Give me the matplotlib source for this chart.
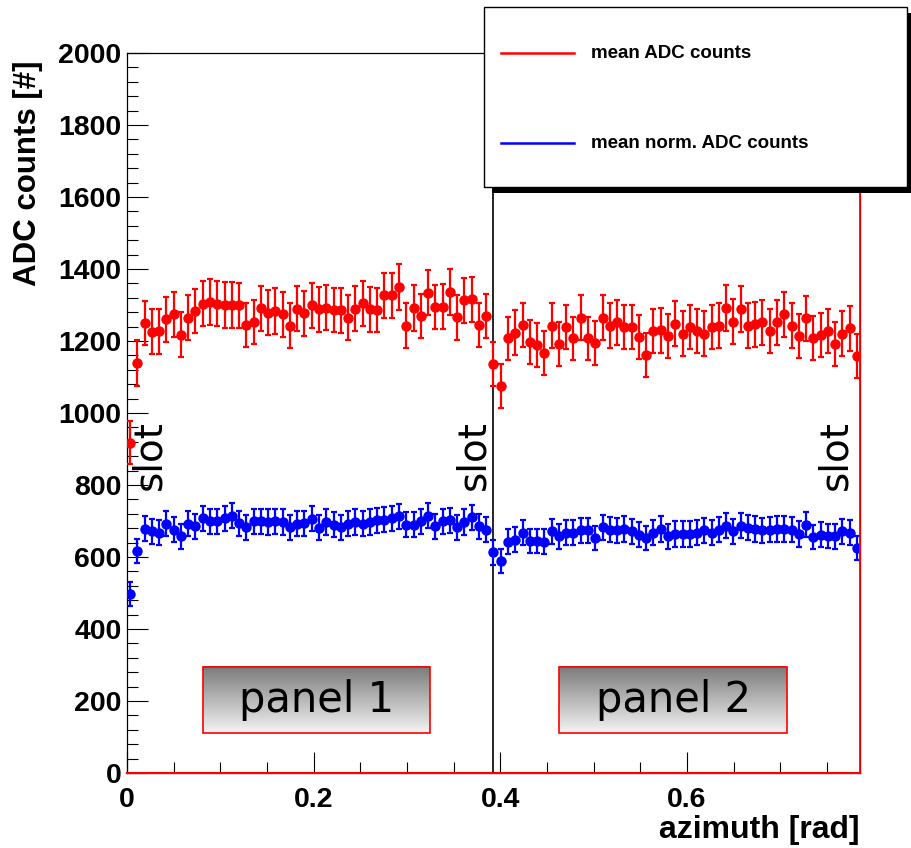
import numpy as np
import matplotlib
matplotlib.use("Agg")
import matplotlib.pyplot as plt
from matplotlib.patches import Rectangle
from matplotlib.lines import Line2D
from matplotlib.colors import LinearSegmentedColormap

# ---------------- data ----------------
azimuth_start = 0.0032
azimuth_stop = np.pi / 4 - 0.0032
n_points = 101
panel_boundary = np.pi / 8

mean_adc = [917, 1138, 1249, 1226, 1227, 1260, 1274, 1218, 1265, 1283,
            1304, 1309, 1304, 1300, 1300, 1299, 1244, 1253, 1291, 1279,
            1283, 1274, 1243, 1290, 1277, 1299, 1288, 1293, 1286, 1285,
            1265, 1290, 1305, 1288, 1286, 1327, 1327, 1351, 1243, 1292,
            1269, 1334, 1294, 1295, 1336, 1266, 1313, 1316, 1244, 1269,
            1137, 1075, 1207, 1223, 1244, 1198, 1189, 1167, 1243, 1192,
            1239, 1207, 1265, 1207, 1195, 1265, 1243, 1252, 1239, 1239,
            1211, 1161, 1228, 1230, 1214, 1248, 1220, 1239, 1228, 1220,
            1239, 1243, 1291, 1254, 1290, 1243, 1246, 1252, 1228, 1252,
            1274, 1243, 1214, 1263, 1209, 1216, 1228, 1191, 1220, 1235,
            1158]
mean_adc_err = [60, 64, 61, 62, 62, 63, 62, 62, 63, 62,
                63, 64, 63, 63, 63, 62, 62, 62, 63, 62,
                63, 62, 62, 63, 62, 63, 62, 63, 62, 62,
                62, 63, 63, 62, 62, 63, 63, 64, 62, 63,
                62, 63, 62, 63, 63, 62, 63, 63, 62, 62,
                61, 60, 61, 62, 62, 61, 61, 61, 62, 61,
                62, 61, 62, 61, 61, 62, 62, 62, 62, 62,
                61, 61, 62, 62, 61, 62, 62, 62, 62, 62,
                62, 62, 64, 62, 64, 62, 62, 62, 62, 62,
                63, 62, 61, 62, 61, 61, 62, 61, 62, 62,
                62]

mean_norm_adc = [498, 617, 679, 671, 667, 692, 676, 657, 693, 685,
                 707, 699, 699, 707, 715, 694, 683, 699, 699, 697,
                 699, 697, 682, 693, 694, 706, 681, 697, 690, 683,
                 693, 697, 692, 697, 702, 704, 707, 713, 690, 690,
                 699, 715, 685, 699, 702, 683, 697, 710, 685, 676,
                 613, 588, 643, 648, 667, 645, 645, 643, 671, 657,
                 667, 667, 674, 674, 653, 683, 676, 674, 678, 671,
                 662, 653, 668, 678, 657, 664, 664, 664, 667, 674,
                 668, 676, 687, 671, 687, 681, 678, 674, 676, 678,
                 678, 676, 664, 690, 655, 662, 659, 657, 671, 667,
                 625]
mean_norm_adc_err = [33, 34, 35, 35, 35, 35, 35, 35, 35, 35,
                     35, 35, 35, 35, 35, 35, 35, 35, 35, 35,
                     35, 35, 35, 35, 35, 35, 35, 35, 35, 35,
                     35, 35, 35, 35, 35, 35, 35, 35, 35, 35,
                     35, 35, 35, 35, 35, 35, 35, 35, 35, 35,
                     34, 33, 34, 34, 35, 34, 34, 34, 35, 34,
                     35, 35, 35, 35, 34, 35, 35, 35, 35, 35,
                     34, 34, 35, 35, 34, 35, 35, 35, 35, 35,
                     35, 35, 35, 35, 35, 35, 35, 35, 35, 35,
                     35, 35, 35, 35, 34, 34, 34, 34, 35, 35,
                     34]

x_ticks = [0, 0.2, 0.4, 0.6]
x_ticklabels = ["0", "0.2", "0.4", "0.6"]
y_ticks = [0, 200, 400, 600, 800, 1000, 1200, 1400, 1600, 1800, 2000]
legend_labels = ["mean ADC counts", "mean norm. ADC counts"]
panel_labels = ["panel 1", "panel 2"]
slot_label = "slot"
x_label = "azimuth [rad]"
y_label = "ADC counts [#]"

azimuth = np.linspace(azimuth_start, azimuth_stop, n_points)

# ---------------- figure ----------------
W, H = 912, 848
fig = plt.figure(figsize=(W / 100, H / 100), dpi=100)
ax_l, ax_r, ax_t, ax_b = 127, 860, 53, 773
ax = fig.add_axes([ax_l / W, 1 - ax_b / H, (ax_r - ax_l) / W, (ax_b - ax_t) / H])

bold = dict(family="Liberation Sans", weight="bold")

ax.errorbar(azimuth, mean_adc, yerr=mean_adc_err, fmt="o", color="#ff0000",
            ms=6.5, elinewidth=1.6, capsize=2.3, capthick=1.6, zorder=4)
ax.errorbar(azimuth, mean_norm_adc, yerr=mean_norm_adc_err, fmt="o", color="#0000ff",
            ms=6.5, elinewidth=1.6, capsize=2.3, capthick=1.6, zorder=4)

ax.axvline(panel_boundary, color="black", lw=1.2, zorder=2)
ax.axhline(0, color="#ff0000", lw=1.5, zorder=5, clip_on=False)
ax.axvline(np.pi / 4, color="#ff0000", lw=1.3, zorder=5, clip_on=False)

# panel label boxes with grey gradient
cmap = LinearSegmentedColormap.from_list("g", ["#7a7a7a", "#f4f4f4"])
grad = np.linspace(0, 1, 256).reshape(-1, 1)
boxes = [(0.1037, 0.4133), (0.5894, 0.9004)]
by0, by1 = 0.0556, 0.1474
for (bx0, bx1), lab in zip(boxes, panel_labels):
    ax.imshow(grad, cmap=cmap, extent=[bx0, bx1, by0, by1], origin="upper",
              transform=ax.transAxes, aspect="auto", zorder=3, interpolation="bilinear")
    ax.add_patch(Rectangle((bx0, by0), bx1 - bx0, by1 - by0, transform=ax.transAxes,
                           fill=False, edgecolor="#ff0000", lw=1.2, zorder=3.5))
    ax.text((bx0 + bx1) / 2, (by0 + by1) / 2, lab, transform=ax.transAxes,
            ha="center", va="center", fontsize=30, family="DejaVu Sans", zorder=3.6)

for sx in [0.030, 0.473, 0.966]:
    ax.text(sx, 0.442, slot_label, transform=ax.transAxes, rotation=90,
            ha="center", va="center", fontsize=28, family="DejaVu Sans", zorder=3.6)

ax.set_xlim(0, np.pi / 4)
ax.set_ylim(0, 2000)
ax.set_aspect("auto")

ax.set_xticks(x_ticks)
ax.set_xticklabels(x_ticklabels)
ax.set_xticks(np.arange(0, 0.79, 0.05), minor=True)
ax.set_yticks(y_ticks)
ax.set_yticks(np.arange(0, 2001, 40), minor=True)
ax.tick_params(which="both", direction="in", top=False, right=False)
ax.tick_params(which="major", length=15, width=0.8)
ax.tick_params(which="minor", length=8, width=0.8)
ax.tick_params(axis="x", pad=10)
ax.tick_params(axis="y", pad=4)
for lab in ax.get_xticklabels() + ax.get_yticklabels():
    lab.set_fontproperties(matplotlib.font_manager.FontProperties(size=20.5, **bold))

for sp in ax.spines.values():
    sp.set_linewidth(0.9)

ax.set_xlabel(x_label, loc="right", fontsize=23, **bold)
ax.set_ylabel(y_label, loc="top", fontsize=22.5, **bold)
ax.xaxis.set_label_coords(1.0, (ax_b - 815) / (ax_b - ax_t))
ax.yaxis.set_label_coords((43 - ax_l) / (ax_r - ax_l), (ax_b - 61) / (ax_b - ax_t))

# legend box (ROOT style, with shadow)
lx0, lx1, ly0, ly1 = 484, 907, 7, 187
def fx(px):
    return px / W
def fy(py):
    return 1 - py / H
fig.add_artist(Rectangle((fx(lx0 + 8), fy(ly1 + 6)), fx(lx1 - lx0), fy(ly0) - fy(ly1),
                         transform=fig.transFigure, facecolor="black", edgecolor="none", zorder=10))
fig.add_artist(Rectangle((fx(lx0), fy(ly1)), fx(lx1 - lx0), fy(ly0) - fy(ly1),
                         transform=fig.transFigure, facecolor="white", edgecolor="black",
                         lw=1.0, zorder=11))
for py, col, lab in [(53, "#ff0000", legend_labels[0]), (143, "#0000ff", legend_labels[1])]:
    fig.add_artist(Line2D([fx(501), fx(574)], [fy(py), fy(py)], color=col, lw=1.8,
                          transform=fig.transFigure, zorder=12))
    fig.text(fx(591), fy(py + 1), lab, ha="left", va="center", fontsize=13.5,
             zorder=12, **bold)

fig.savefig("out.png", dpi=100)
